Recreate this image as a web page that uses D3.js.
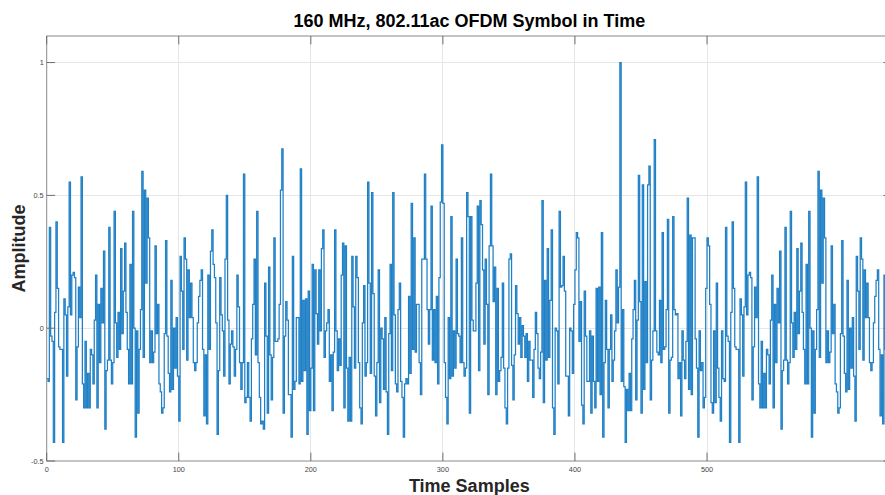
<!DOCTYPE html>
<html><head><meta charset="utf-8">
<script src="https://cdn.jsdelivr.net/npm/d3@7"></script>
<style>html,body{margin:0;padding:0;background:#fff}svg{display:block}</style>
</head><body>
<svg id="chart" width="885" height="495"></svg>
<script>
// Samples 0..63
const samples000 = [-0.19,-0.2,0.38,-0.03,-0.05,-0.43,0.06,0.40,0.15,-0.07,
 -0.08,-0.08,-0.43,0.11,0.05,-0.18,0.08,0.55,0.05,0.2,
 0.21,0.19,-0.27,-0.07,0.155,0.04,0.57,-0.21,-0.3,-0.05,
 -0.3,-0.17,-0.3,-0.08,-0.1,-0.21,0.03,0.2,-0.3,0.09,
 -0.13,0.15,0.02,0.29,-0.38,-0.16,-0.12,0.38,-0.12,-0.21,
 -0.13,0.44,0.02,-0.11,0.06,-0.08,0.3,-0.02,0.14,0.32,
 0.06,-0.08,-0.21,0.24];
// Samples 64..125
const samples064 = [-0.21,0.44,0.0,-0.41,-0.01,-0.32,-0.08,0.07,0.59,-0.11,
 0.52,0.17,0.49,0.34,-0.13,-0.01,-0.13,-0.09,0.31,-0.02,
 0.09,-0.21,-0.24,-0.32,-0.3,-0.02,0.33,-0.03,-0.17,-0.24,
 0.18,-0.23,0.0,-0.15,0.04,-0.18,-0.35,0.27,0.14,-0.08,
 0.34,0.26,-0.12,0.22,0.04,0.17,0.04,-0.13,-0.16,-0.13,
 0.02,0.12,0.18,0.22,-0.08,-0.33,-0.1,-0.36,0.2,-0.08,
 0.29,0.37];
// Samples 126..189
const samples126 = [0.24,0.19,0.02,-0.40,-0.16,0.19,0.05,-0.01,-0.18,0.26,
 0.50,0.03,-0.21,-0.06,-0.01,-0.07,-0.18,-0.08,0.2,0.08,
 -0.13,-0.23,-0.13,0.58,-0.28,-0.26,-0.13,-0.26,-0.35,-0.04,
 0.09,0.26,-0.1,0.44,-0.13,-0.26,-0.36,-0.35,-0.38,0.17,
 -0.03,-0.32,0.23,-0.1,-0.27,-0.11,0.34,-0.05,-0.05,-0.04,
 0.09,0.52,0.675,-0.32,-0.03,0.1,0.03,-0.25,-0.25,-0.41,
 0.27,-0.23,-0.2,0.04];
// Samples 190..252
const samples190 = [0.04,-0.21,0.60,-0.2,0.105,-0.16,0.11,-0.4,0.14,-0.31,
 -0.15,0.24,-0.31,0.22,0.055,-0.06,0.22,-0.01,0.3,0.37,
 -0.11,-0.01,0.02,0.07,-0.2,-0.1,-0.31,-0.09,0.37,-0.01,
 -0.16,-0.04,-0.14,0.2,0.32,-0.3,0.31,-0.15,-0.35,-0.11,
 -0.35,0.27,0.08,-0.15,0.27,0.19,-0.13,-0.3,-0.36,0.02,
 0.16,-0.18,-0.13,0.55,0.17,-0.17,0.51,0.13,-0.18,-0.33,
 -0.13,0.22,-0.28];
// Samples 253..316
const samples253 = [0.0,-0.04,-0.23,0.04,-0.24,-0.4,-0.02,0.24,-0.16,0.51,
 0.05,-0.21,-0.24,0.07,0.17,-0.2,-0.26,-0.41,-0.21,-0.19,
 -0.21,0.12,-0.17,0.47,-0.08,0.34,-0.09,0.09,0.09,-0.13,
 -0.25,0.26,0.26,0.58,0.26,0.07,-0.06,0.07,0.46,-0.12,
 0.07,-0.13,0.12,-0.21,0.19,0.475,0.69,0.47,-0.13,-0.26,
 -0.36,0.04,-0.19,0.42,-0.18,-0.01,-0.15,0.26,-0.02,-0.03,
 -0.13,0.34,-0.13,-0.18];
// Samples 317..380
const samples317 = [-0.15,0.51,0.42,-0.32,0.42,0.03,-0.01,-0.01,0.17,0.46,
 -0.16,0.48,0.39,0.22,-0.06,0.26,0.09,-0.25,0.31,0.58,
 0.31,0.1,0.23,-0.25,0.15,-0.2,-0.16,-0.11,0.17,-0.15,
 -0.3,-0.36,-0.15,0.26,0.28,-0.14,-0.27,-0.1,0.16,0.055,
 -0.06,0.04,-0.11,0.01,-0.03,-0.11,-0.02,-0.2,-0.05,-0.12,
 -0.12,-0.26,-0.08,0.06,-0.02,-0.15,-0.19,-0.09,0.48,-0.28,
 0.18,-0.12,0.3,-0.11];
// Samples 381..443
const samples381 = [0.105,0.37,-0.3,-0.4,0.0,-0.01,-0.21,0.44,
 0.155,0.16,0.27,0.14,-0.18,-0.18,-0.33,0.0,-0.01,-0.17,0.09,0.22,0.36,
 0.34,-0.05,0.1,-0.29,-0.36,0.14,-0.03,-0.2,-0.2,-0.01,-0.32,-0.03,-0.2,-0.3,0.15,-0.2,0.155,-0.25,0.36,
 -0.41,-0.13,0.105,-0.08,-0.3,-0.08,0.05,-0.2,-0.12,-0.01,0.22,0.02,0.155,1.0,
 -0.2,0.07,-0.22,-0.43,-0.23,-0.31,-0.17,-0.31,-0.04];
// Samples 444..511
const samples444 = [0.07,0.18,-0.27,0.03,0.575,0.1,-0.32,0.54,-0.23,0.175,
 -0.13,0.54,0.61,-0.27,-0.12,-0.01,0.71,-0.01,-0.09,-0.1,
 0.105,-0.13,0.36,-0.08,-0.07,0.07,0.41,-0.32,-0.12,-0.11,
 0.42,0.07,0.05,0.055,-0.19,-0.13,-0.33,-0.01,-0.12,-0.19,
 -0.05,0.49,-0.23,0.35,-0.25,0.34,0.34,-0.04,-0.15,-0.41,
 -0.01,-0.16,-0.13,-0.3,-0.26,0.15,0.34,0.31,0.09,-0.28,
 -0.32,-0.01,-0.28,0.17,-0.15,-0.26,-0.35,-0.01];
// Samples 512..639 (end of symbol, same as the cyclic prefix at the start)
const samples512 = [-0.19,-0.2,0.38,-0.03,-0.05,-0.43,0.06,0.40,0.15,-0.07,
 -0.08,-0.08,-0.43,0.11,0.05,-0.18,0.08,0.55,0.05,0.2,
 0.21,0.19,-0.27,-0.07,0.155,0.04,0.57,-0.21,-0.3,-0.05,
 -0.3,-0.17,-0.3,-0.08,-0.1,-0.21,0.03,0.2,-0.3,0.09,
 -0.13,0.15,0.02,0.29,-0.38,-0.16,-0.12,0.38,-0.12,-0.21,
 -0.13,0.44,0.02,-0.11,0.06,-0.08,0.3,-0.02,0.14,0.32,
 0.06,-0.08,-0.21,0.24,
 -0.21,0.44,0.0,-0.41,-0.01,-0.32,-0.08,0.07,0.59,-0.11,
 0.52,0.17,0.49,0.34,-0.13,-0.01,-0.13,-0.09,0.31,-0.02,
 0.09,-0.21,-0.24,-0.32,-0.3,-0.02,0.33,-0.03,-0.17,-0.24,
 0.18,-0.23,0.0,-0.15,0.04,-0.18,-0.35,0.27,0.14,-0.08,
 0.34,0.26,-0.12,0.22,0.04,0.17,0.04,-0.13,-0.16,-0.13,
 0.02,0.12,0.18,0.22,-0.08,-0.33,-0.1,-0.36,0.2,-0.08,
 0.29,0.37,0.24,0.19];

const xTicks = [0, 100, 200, 300, 400, 500];
const yTicks = [-0.5, 0, 0.5, 1];
const yTickLabels = ["-0.5", "0", "0.5", "1"];
const xDomain = [0, 640];
const yDomain = [-0.5, 1.1];
const titleText = "160 MHz, 802.11ac OFDM Symbol in Time";
const xLabelText = "Time Samples";
const yLabelText = "Amplitude";

const amplitude = [].concat(samples000, samples064, samples126, samples190,
  samples253, samples317, samples381, samples444, samples512);

const L = 46.7, R = 891.9, T = 36, B = 461;
const svg = d3.select("#chart");
const x = d3.scaleLinear().domain(xDomain).range([L, R]);
const y = d3.scaleLinear().domain(yDomain).range([B, T]);
const font = "'Liberation Sans', Arial, Helvetica, sans-serif";
const tickLen = 8.4;

svg.append("rect").attr("x",0).attr("y",0).attr("width",885).attr("height",495).attr("fill","#fff");

// grid
const grid = svg.append("g").attr("stroke","#e6e6e6").attr("stroke-width",1).attr("shape-rendering","crispEdges");
xTicks.filter(v=>v>xDomain[0]).forEach(v=>{
  grid.append("line").attr("x1",x(v)).attr("x2",x(v)).attr("y1",T).attr("y2",B);
});
yTicks.filter(v=>v>yDomain[0]).forEach(v=>{
  grid.append("line").attr("x1",L).attr("x2",R).attr("y1",y(v)).attr("y2",y(v));
});

// data (stairs)
const pts = amplitude.map((v,i)=>[i,v]);
pts.push([amplitude.length, amplitude[amplitude.length-1]]);
svg.append("defs").append("clipPath").attr("id","clip")
  .append("rect").attr("x",L).attr("y",T).attr("width",R-L).attr("height",B-T);
const line = d3.line().x(d=>x(d[0])).y(d=>y(d[1])).curve(d3.curveStepAfter);
svg.append("path").datum(pts).attr("clip-path","url(#clip)")
  .attr("d",line).attr("fill","none").attr("stroke","#1f80c6")
  .attr("stroke-width",1.25).attr("stroke-linejoin","miter");

// axes box
const ax = svg.append("g").attr("stroke","#8a8a8a").attr("stroke-width",1).attr("fill","none");
ax.append("rect").attr("x",L).attr("y",T).attr("width",R-L).attr("height",B-T);
// ticks
const tk = svg.append("g").attr("stroke","#6e6e6e").attr("stroke-width",1);
xTicks.forEach(v=>{
  tk.append("line").attr("x1",x(v)).attr("x2",x(v)).attr("y1",B).attr("y2",B-tickLen);
  tk.append("line").attr("x1",x(v)).attr("x2",x(v)).attr("y1",T).attr("y2",T+tickLen);
});
yTicks.forEach(v=>{
  tk.append("line").attr("x1",L).attr("x2",L+tickLen).attr("y1",y(v)).attr("y2",y(v));
  tk.append("line").attr("x1",R).attr("x2",R-tickLen).attr("y1",y(v)).attr("y2",y(v));
});

// tick labels
const lab = svg.append("g").attr("font-family",font).attr("font-size","7.3px").attr("fill","#454545");
xTicks.forEach(v=>{
  lab.append("text").attr("x",x(v)).attr("y",B+11).attr("text-anchor","middle").text(d3.format("d")(v));
});
yTicks.forEach((v,i)=>{
  lab.append("text").attr("x",L-3).attr("y",y(v)+2.6).attr("text-anchor","end").text(yTickLabels[i]);
});

// title & axis labels
svg.append("text").attr("x",(L+R)/2).attr("y",27).attr("text-anchor","middle")
  .attr("font-family",font).attr("font-weight","bold").attr("font-size","18px").attr("fill","#000")
  .text(titleText);
svg.append("text").attr("x",(L+R)/2).attr("y",492).attr("text-anchor","middle")
  .attr("font-family",font).attr("font-weight","bold").attr("font-size","18px").attr("fill","#262626")
  .text(xLabelText);
svg.append("text").attr("transform",`translate(25,${(T+B)/2}) rotate(-90)`).attr("text-anchor","middle")
  .attr("font-family",font).attr("font-weight","bold").attr("font-size","18px").attr("fill","#262626")
  .text(yLabelText);
</script>
</body></html>
